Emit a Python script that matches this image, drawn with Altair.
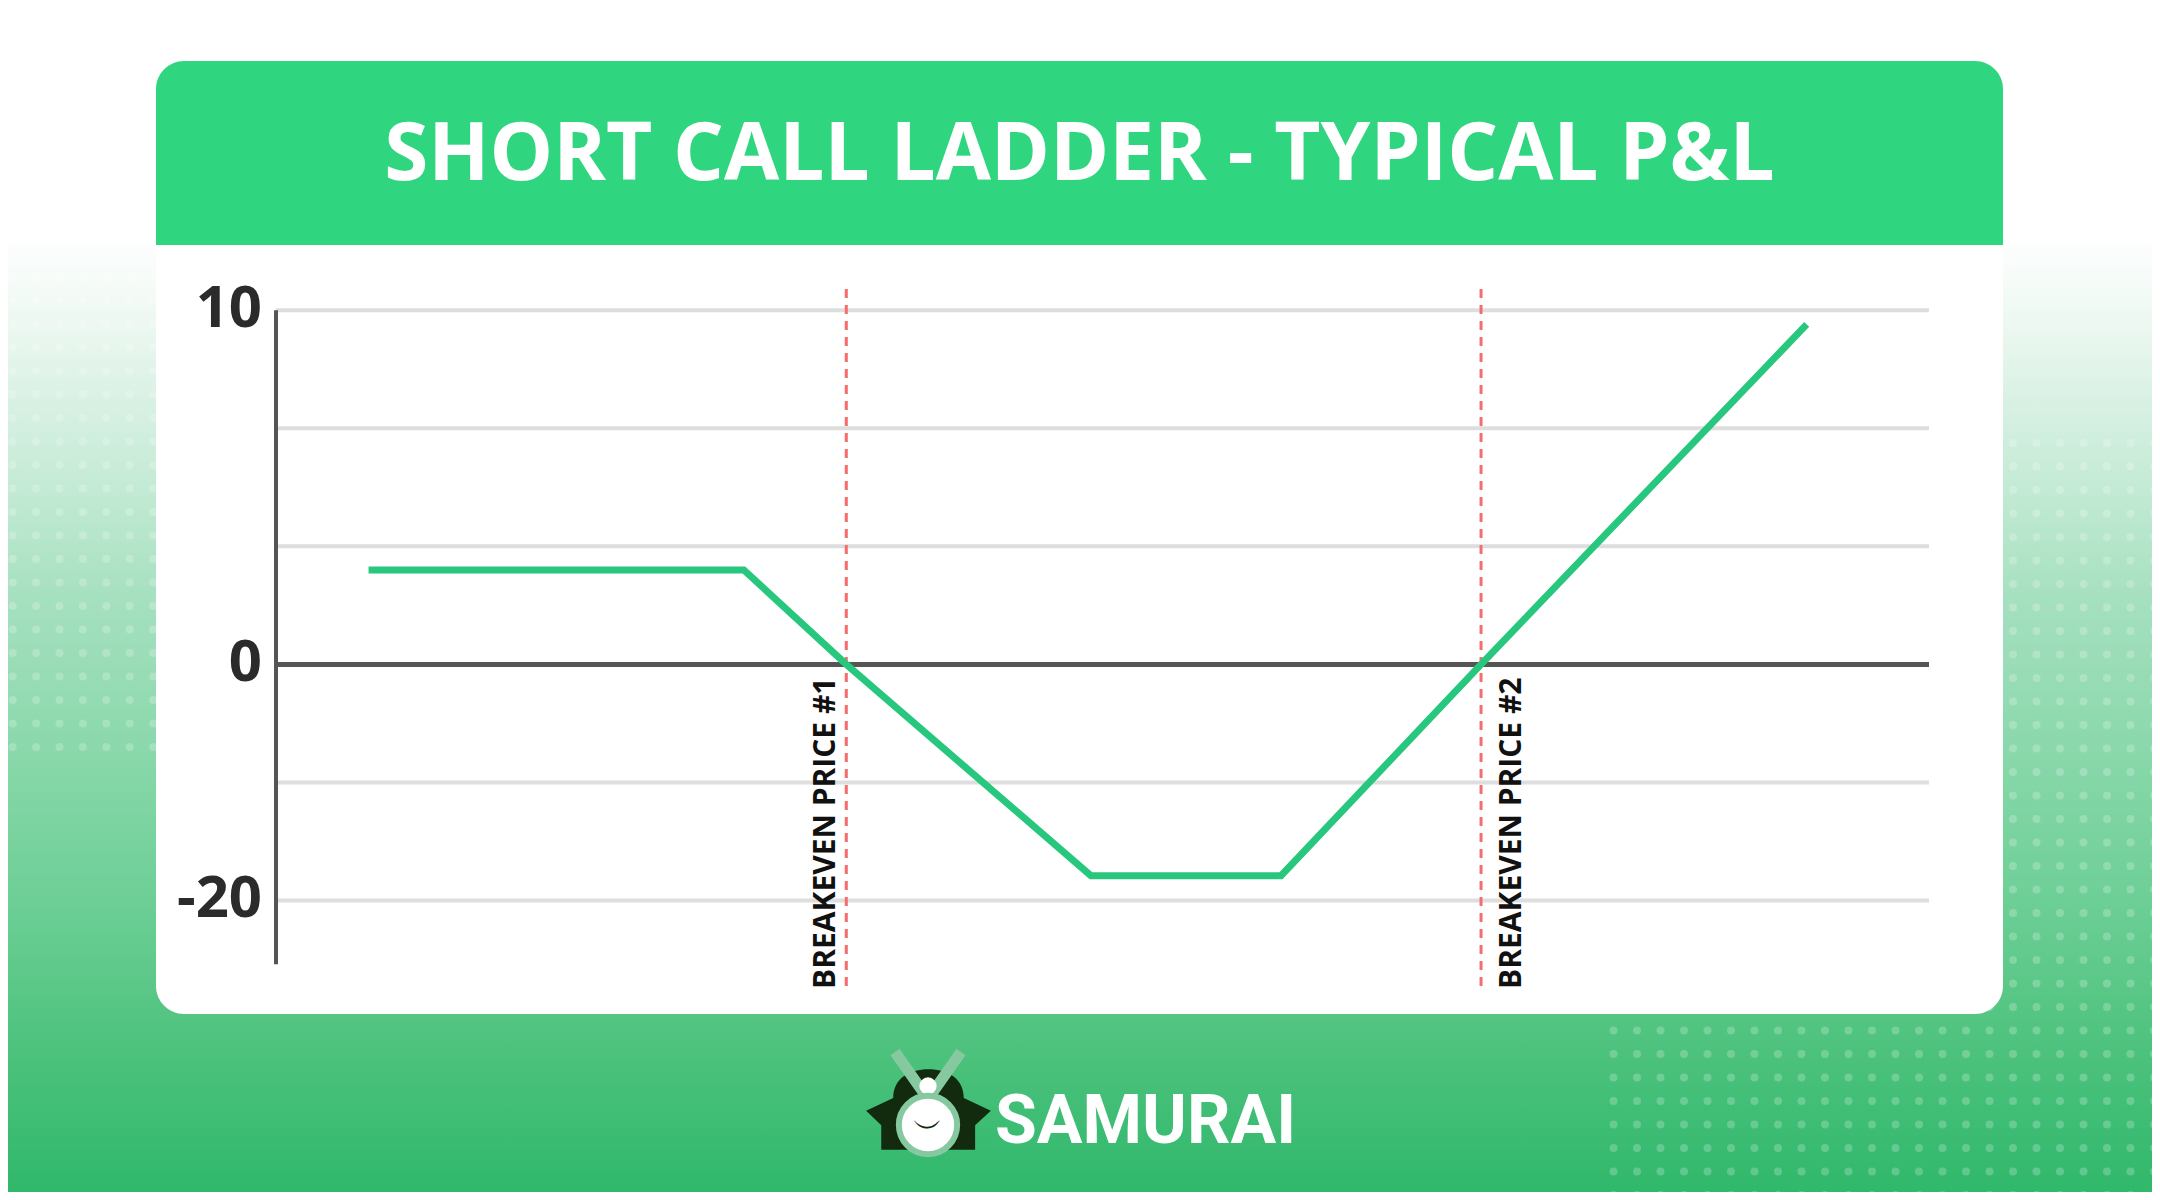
import altair as alt
import pandas as pd

# ---------------- data ----------------
price = [5.6, 28.3, 34.5, 49.3, 60.8, 72.9, 92.6]
pnl_level = [0.80, 0.80, 0.0, -1.79, -1.79, 0.0, 2.88]

grid_levels = [3, 2, 1, -1, -2]
tick_levels = [3, 0, -2]
tick_labels = ["10", "0", "-20"]

breakeven_price = [34.5, 72.9]
breakeven_label = ["BREAKEVEN PRICE #1", "BREAKEVEN PRICE #2"]
breakeven_side = ["left", "right"]

title_text = "SHORT CALL LADDER - TYPICAL P&L"
brand_text = "SAMURAI"

# ---------------- geometry of the plot ----------------
W, H = 1653, 700
X_DOM = [0, 100]
Y_DOM = [-2.75, 3.18]
OX, OY = 276, 289  # page position of plot origin
xs = alt.Scale(domain=X_DOM, nice=False, zero=False)
ys = alt.Scale(domain=Y_DOM, nice=False, zero=False)

# decorative dot texture (page pixel grid -> data units)
def _to_data(px, py):
    return ((px - OX) / W * (X_DOM[1] - X_DOM[0]),
            Y_DOM[1] - (py - OY) / H * (Y_DOM[1] - Y_DOM[0]))

dot_px, dot_py = [], []
for i in range(7):                       # left block
    for j in range(21):
        dot_px.append(12.7 + 23.4 * i)
        dot_py.append(277 + 23.5 * j)
for i in range(-17, 7):                  # right block + bottom band
    for j in range(33):
        px = 2013 + 23.5 * i
        py = 443 + 23.5 * j
        if i < 0 and j < 24:
            continue
        dot_px.append(px)
        dot_py.append(py)
_dx, _dy = zip(*[_to_data(a, b) for a, b in zip(dot_px, dot_py)])
df_dots = pd.DataFrame({"dx": _dx, "dy": _dy})

# ---------------- tables ----------------
df_line = pd.DataFrame({"price": price, "pnl": pnl_level})
df_grid = pd.DataFrame({"level": grid_levels})
df_zero = pd.DataFrame({"level": [0]})
df_axis = pd.DataFrame({"top": [3.0], "bottom": [-2.54]})
df_ticks = pd.DataFrame({"level": tick_levels, "label": tick_labels})
df_be = pd.DataFrame({"price": breakeven_price, "label": breakeven_label, "side": breakeven_side})
one = pd.DataFrame({"k": [0]})

FONT = "Open Sans"
GREEN = "#27c77d"

bg_grad = alt.LinearGradient(
    gradient="linear", x1=0, y1=0, x2=0, y2=1,
    stops=[
        alt.GradientStop(color="#ffffff", offset=0.0),
        alt.GradientStop(color="#ffffff", offset=0.19),
        alt.GradientStop(color="#f2faf5", offset=0.247),
        alt.GradientStop(color="#d9f1e4", offset=0.331),
        alt.GradientStop(color="#c0e9d2", offset=0.416),
        alt.GradientStop(color="#a5e0bf", offset=0.5),
        alt.GradientStop(color="#8ad8ab", offset=0.627),
        alt.GradientStop(color="#6dcf96", offset=0.753),
        alt.GradientStop(color="#4dc27d", offset=0.88),
        alt.GradientStop(color="#30b86b", offset=1.0),
    ],
)

base1 = alt.Chart(one)

background = base1.mark_rect(color=bg_grad).encode(
    x=alt.value(-268), x2=alt.value(1876), y=alt.value(-281), y2=alt.value(903)
)
dots = alt.Chart(df_dots).mark_point(shape="circle", filled=True, color="white",
                                     opacity=0.22, size=64).encode(
    x=alt.X("dx:Q", scale=xs, axis=None), y=alt.Y("dy:Q", scale=ys, axis=None)
)
card = base1.mark_rect(color="white", cornerRadius=28).encode(
    x=alt.value(-120), x2=alt.value(1727), y=alt.value(-228), y2=alt.value(725)
)
header = base1.mark_rect(color="#2fd67f", cornerRadiusTopLeft=28, cornerRadiusTopRight=28).encode(
    x=alt.value(-120), x2=alt.value(1727), y=alt.value(-228), y2=alt.value(-44)
)
title = base1.mark_text(
    text=title_text, font=FONT, fontSize=80, fontWeight="bold", color="white",
    align="center", baseline="middle"
).encode(x=alt.value(803.5), y=alt.value(-133))

grid = alt.Chart(df_grid).mark_rule(color="#dedede", strokeWidth=4).encode(
    y=alt.Y("level:Q", scale=ys, axis=None),
    x=alt.value(0), x2=alt.value(W),
)
zero_line = alt.Chart(df_zero).mark_rule(color="#555555", strokeWidth=5).encode(
    y=alt.Y("level:Q", scale=ys, axis=None), x=alt.value(0), x2=alt.value(W)
)
yaxis_line = alt.Chart(df_axis).mark_rule(color="#555555", strokeWidth=4).encode(
    x=alt.value(0), y=alt.Y("top:Q", scale=ys, axis=None), y2="bottom:Q"
)
ticks = alt.Chart(df_ticks).mark_text(
    font=FONT, fontSize=58, fontWeight="bold", color="#2b2b2b", align="right", baseline="middle"
).encode(
    y=alt.Y("level:Q", scale=ys, axis=None), x=alt.value(-14), text="label:N"
)

be_rules = alt.Chart(df_be).mark_rule(color="#f76b6b", strokeWidth=3, strokeDash=[9, 7]).encode(
    x=alt.X("price:Q", scale=xs, axis=None),
    y=alt.value(0), y2=alt.value(H),
)
be_left = alt.Chart(df_be).transform_filter(alt.datum.side == "left").mark_text(
    font=FONT, fontSize=30, fontWeight="bold", color="#111111",
    angle=270, align="left", baseline="bottom", dy=-5
).encode(x=alt.X("price:Q", scale=xs, axis=None), y=alt.value(H), text="label:N")
be_right = alt.Chart(df_be).transform_filter(alt.datum.side == "right").mark_text(
    font=FONT, fontSize=30, fontWeight="bold", color="#111111",
    angle=270, align="left", baseline="top", dy=16
).encode(x=alt.X("price:Q", scale=xs, axis=None), y=alt.value(H), text="label:N")

pl_line = alt.Chart(df_line).mark_line(color=GREEN, strokeWidth=7).encode(
    x=alt.X("price:Q", scale=xs, axis=None),
    y=alt.Y("pnl:Q", scale=ys, axis=None),
)

# ---------------- logo ----------------
helmet_path = ("M-0.99,0.17 L-0.56,-0.03 C-0.56,-0.35 -0.3,-0.49 0,-0.49 "
               "C0.3,-0.49 0.56,-0.35 0.56,-0.03 L0.99,0.17 L0.74,0.40 L0.74,0.79 "
               "L-0.75,0.79 L-0.75,0.40 Z")
helmet = base1.mark_point(shape=helmet_path, filled=True, color="#122a0e", strokeWidth=0,
                          opacity=1, size=126 * 126).encode(x=alt.value(652.5), y=alt.value(811))
horn_l = base1.mark_rule(color="#86c9a0", strokeWidth=11).encode(
    x=alt.value(619), y=alt.value(763), x2=alt.value(652), y2=alt.value(810))
horn_r = base1.mark_rule(color="#86c9a0", strokeWidth=11).encode(
    x=alt.value(685), y=alt.value(763), x2=alt.value(652), y2=alt.value(810))
knob = base1.mark_point(shape="circle", filled=True, color="white", opacity=1, size=300).encode(
    x=alt.value(652), y=alt.value(797))
face = base1.mark_point(shape="circle", filled=True, fill="white", stroke="#86c9a0", strokeWidth=6,
                        opacity=1, size=3400).encode(x=alt.value(652), y=alt.value(836))
stache = base1.mark_text(text="︶", fontSize=30, color="#122a0e", font="DejaVu Sans",
                         align="center", baseline="middle").encode(x=alt.value(652), y=alt.value(840))
brand = base1.mark_text(text=brand_text, font="Roboto", fontSize=68, fontWeight="bold", color="white",
                        align="left", baseline="alphabetic").encode(x=alt.value(719), y=alt.value(854))

chart = alt.layer(
    background, dots, card, header, title,
    grid, zero_line, yaxis_line, ticks,
    be_rules, pl_line, be_left, be_right,
    helmet, horn_l, horn_r, knob, face, stache, brand,
).properties(
    width=W, height=H,
    padding={"left": 268, "top": 281, "right": 223, "bottom": 203},
    autosize="none",
).configure_view(stroke=None)

chart.save("out.html", embed_options={"renderer": "svg", "actions": False})
